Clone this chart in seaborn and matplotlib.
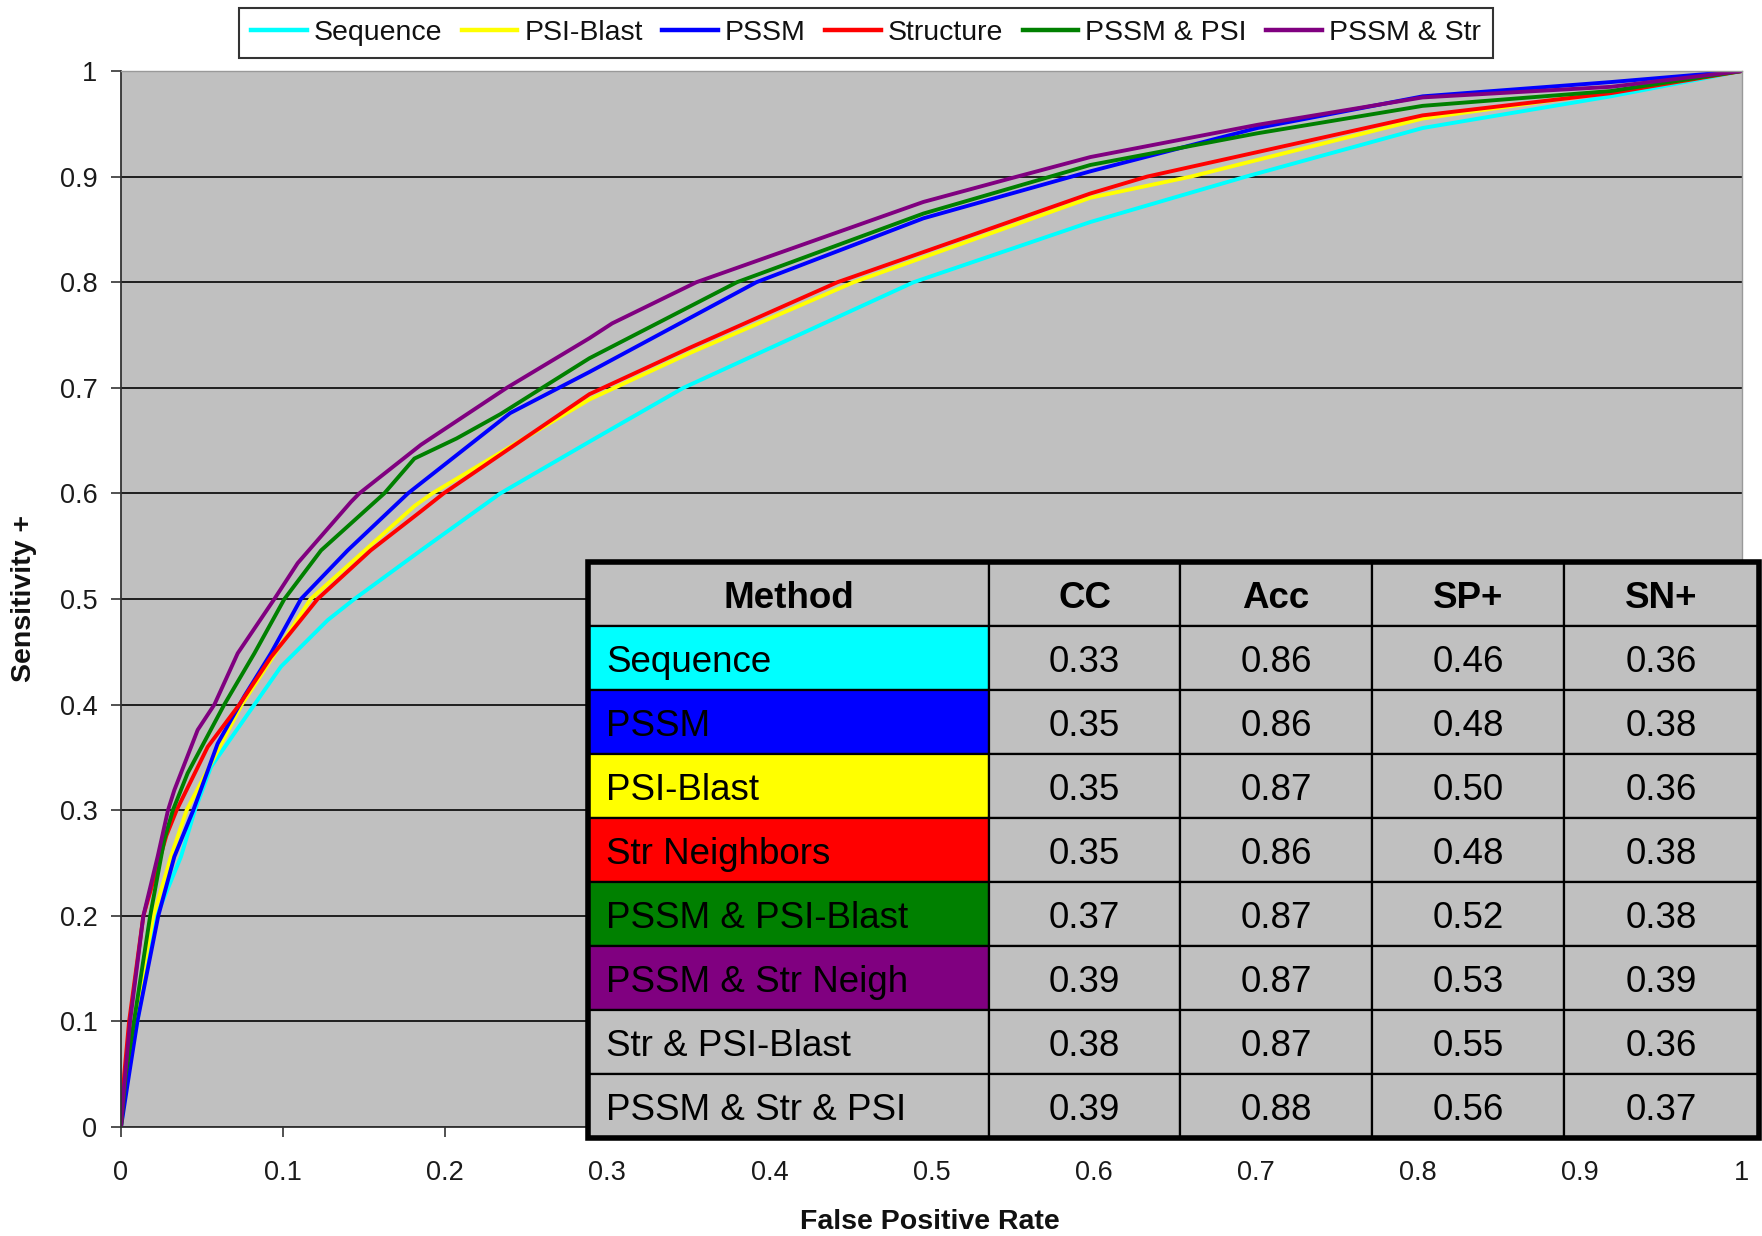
import numpy as np
import pandas as pd
import matplotlib
matplotlib.use("Agg")
import matplotlib.pyplot as plt
import seaborn as sns
from matplotlib.patches import Rectangle

# ---------------- data ----------------
series_names = ["Sequence", "PSI-Blast", "PSSM", "Structure", "PSSM & PSI", "PSSM & Str"]
series_colors = ["#00FFFF", "#FFFF00", "#0000FF", "#FF0000", "#008000", "#800080"]

seq_fpr = [0, 0.004, 0.010, 0.022, 0.037, 0.0456, 0.0555, 0.0823, 0.0987, 0.1275, 0.144, 0.185,
           0.234, 0.289, 0.347, 0.489, 0.598, 0.694, 0.803, 0.919, 1.0]
seq_sens = [0, 0.05, 0.10, 0.20, 0.256, 0.30, 0.341, 0.40, 0.436, 0.480, 0.50, 0.546,
            0.60, 0.649, 0.70, 0.80, 0.857, 0.90, 0.946, 0.976, 1.0]

psi_fpr = [0, 0.003, 0.008, 0.020, 0.0308, 0.0405, 0.0745, 0.117, 0.181, 0.192, 0.289, 0.351,
           0.452, 0.598, 0.660, 0.803, 0.919, 1.0]
psi_sens = [0, 0.05, 0.10, 0.20, 0.256, 0.30, 0.40, 0.50, 0.588, 0.60, 0.689, 0.733,
            0.80, 0.880, 0.90, 0.955, 0.980, 1.0]

pssm_fpr = [0, 0.004, 0.0101, 0.023, 0.0329, 0.0446, 0.0596, 0.0761, 0.0925, 0.111, 0.1398, 0.177,
            0.240, 0.289, 0.392, 0.495, 0.598, 0.701, 0.803, 0.919, 1.0]
pssm_sens = [0, 0.04, 0.10, 0.20, 0.256, 0.30, 0.363, 0.408, 0.4486, 0.50, 0.546, 0.60,
             0.676, 0.715, 0.80, 0.8605, 0.905, 0.946, 0.976, 0.9895, 1.0]

str_fpr = [0, 0.002, 0.005, 0.0138, 0.028, 0.0343, 0.0535, 0.073, 0.0925, 0.1213, 0.154, 0.185,
           0.199, 0.289, 0.351, 0.442, 0.598, 0.633, 0.803, 0.919, 1.0]
str_sens = [0, 0.05, 0.10, 0.20, 0.276, 0.30, 0.360, 0.40, 0.445, 0.50, 0.546, 0.583,
            0.60, 0.694, 0.738, 0.80, 0.884, 0.90, 0.958, 0.979, 1.0]

pssmpsi_fpr = [0, 0.003, 0.008, 0.018, 0.0267, 0.032, 0.0411, 0.0637, 0.0823, 0.1008, 0.1234, 0.1624,
               0.181, 0.207, 0.234, 0.263, 0.289, 0.380, 0.495, 0.598, 0.701, 0.803, 0.919, 1.0]
pssmpsi_sens = [0, 0.05, 0.10, 0.20, 0.272, 0.30, 0.335, 0.40, 0.4486, 0.50, 0.546, 0.60,
                0.633, 0.652, 0.675, 0.703, 0.728, 0.80, 0.865, 0.911, 0.941, 0.967, 0.981, 1.0]

pssmstr_fpr = [0, 0.002, 0.0056, 0.0138, 0.0226, 0.029, 0.0329, 0.0473, 0.0576, 0.072, 0.0946, 0.109,
               0.1419, 0.147, 0.185, 0.238, 0.289, 0.303, 0.355, 0.495, 0.548, 0.598, 0.701, 0.803,
               0.919, 1.0]
pssmstr_sens = [0, 0.04, 0.10, 0.20, 0.256, 0.30, 0.319, 0.376, 0.40, 0.4486, 0.50, 0.534,
                0.592, 0.60, 0.646, 0.70, 0.747, 0.761, 0.80, 0.876, 0.898, 0.9185, 0.949, 0.975,
                0.985, 1.0]

tick_values = [0, 0.1, 0.2, 0.3, 0.4, 0.5, 0.6, 0.7, 0.8, 0.9, 1]
tick_labels = ["0", "0.1", "0.2", "0.3", "0.4", "0.5", "0.6", "0.7", "0.8", "0.9", "1"]

table_cols = ["Method", "CC", "Acc", "SP+", "SN+"]
methods = ["Sequence", "PSSM", "PSI-Blast", "Str Neighbors", "PSSM & PSI-Blast",
           "PSSM & Str Neigh", "Str & PSI-Blast", "PSSM & Str & PSI"]
method_colors = ["#00FFFF", "#0000FF", "#FFFF00", "#FF0000", "#008000", "#800080", "#C0C0C0", "#C0C0C0"]
cc_vals = ["0.33", "0.35", "0.35", "0.35", "0.37", "0.39", "0.38", "0.39"]
acc_vals = ["0.86", "0.86", "0.87", "0.86", "0.87", "0.87", "0.87", "0.88"]
sp_vals = ["0.46", "0.48", "0.50", "0.48", "0.52", "0.53", "0.55", "0.56"]
sn_vals = ["0.36", "0.38", "0.36", "0.38", "0.38", "0.39", "0.36", "0.37"]

# ---------------- build long-form frame ----------------
xs = [seq_fpr, psi_fpr, pssm_fpr, str_fpr, pssmpsi_fpr, pssmstr_fpr]
ys = [seq_sens, psi_sens, pssm_sens, str_sens, pssmpsi_sens, pssmstr_sens]
frames = []
for name, x, y in zip(series_names, xs, ys):
    frames.append(pd.DataFrame({"fpr": x, "sens": y, "method": name}))
df = pd.concat(frames, ignore_index=True)

plt.rcParams["font.family"] = ["Liberation Sans", "DejaVu Sans"]

W, H = 1762, 1236
fig = plt.figure(figsize=(W / 100, H / 100), dpi=100, facecolor="white")
L, R, T, B = 121, 1742, 71, 1127
ax = fig.add_axes([L / W, 1 - B / H, (R - L) / W, (B - T) / H])
ax.set_facecolor("#C0C0C0")

sns.lineplot(data=df, x="fpr", y="sens", hue="method", hue_order=series_names,
             palette=dict(zip(series_names, series_colors)), linewidth=2.8,
             estimator=None, sort=False, ax=ax, legend=True)
for ln in ax.get_lines():
    ln.set_solid_joinstyle("round")

ax.set_xlim(0, 1)
ax.set_ylim(0, 1)
ax.set_xticks(tick_values)
ax.set_xticklabels(tick_labels)
ax.set_yticks(tick_values)
ax.set_yticklabels(tick_labels)
ax.tick_params(axis="both", labelsize=19.5, labelcolor="#1a1a1a", color="#333333",
               length=7, width=1.2, direction="out")
ax.tick_params(axis="x", pad=17)
ax.tick_params(axis="y", pad=10)
ax.set_axisbelow(True)
ax.yaxis.grid(True, color="#111111", linewidth=1.3)
ax.xaxis.grid(False)
for s in ["left", "bottom"]:
    ax.spines[s].set_color("#333333")
    ax.spines[s].set_linewidth(1.3)
for s in ["top", "right"]:
    ax.spines[s].set_color("#999999")
    ax.spines[s].set_linewidth(1.0)

ax.set_xlabel("False Positive Rate", fontsize=20.5, fontweight="bold", color="#111111")
ax.set_ylabel("Sensitivity +", fontsize=20.5, fontweight="bold", color="#111111")
ax.xaxis.label.set_va("baseline")
ax.xaxis.set_label_coords(930 / W, 1 - 1229 / H, transform=fig.transFigure)
ax.yaxis.set_label_coords(-0.052, 0.5)

handles, labels = ax.get_legend_handles_labels()
ax.get_legend().remove()
leg = fig.legend(handles, labels, loc="center", ncol=6,
                 bbox_to_anchor=(866 / W, 1 - 33 / H), bbox_transform=fig.transFigure,
                 fontsize=20.5, frameon=True, fancybox=False, edgecolor="black",
                 handlelength=1.95, handletextpad=0.25, columnspacing=0.68,
                 borderpad=0.42, borderaxespad=0)
leg.get_frame().set_linewidth(1.5)
for lh in leg.get_lines():
    lh.set_linewidth(3.2)
for t in leg.get_texts():
    t.set_color("#111111")

# ---------------- table ----------------
rows = [[m, c, a, s, n] for m, c, a, s, n in zip(methods, cc_vals, acc_vals, sp_vals, sn_vals)]
cell_colours = [[mc] + ["#C0C0C0"] * 4 for mc in method_colors]
tl, tr, tt, tb = 588, 1759, 562, 1138
bx0 = (tl - L) / (R - L)
bw = (tr - tl) / (R - L)
by0 = (B - tb) / (B - T)
bh = (tb - tt) / (B - T)
col_w = [401, 191, 192, 192, 195]
col_w = [w / sum(col_w) for w in col_w]
tbl = ax.table(cellText=rows, colLabels=table_cols, cellColours=cell_colours,
               colColours=["#C0C0C0"] * 5, colWidths=col_w, cellLoc="center",
               bbox=[bx0, by0, bw, bh])
tbl.auto_set_font_size(False)
tbl.set_fontsize(26.5)
tbl.set_zorder(5)
for (r, c), cell in tbl.get_celld().items():
    cell.set_edgecolor("black")
    cell.set_linewidth(1.6)
    txt = cell.get_text()
    txt.set_color("black")
    txt.set_va("center_baseline")
    if r == 0:
        txt.set_fontweight("bold")
        txt.set_ha("center")
    elif c == 0:
        cell._loc = "left"
        cell.PAD = 0.045
        txt.set_ha("left")
border = Rectangle((bx0, by0), bw, bh, transform=ax.transAxes, fill=False,
                   edgecolor="black", linewidth=4, clip_on=False, zorder=6)
ax.add_patch(border)

fig.savefig("out.png", dpi=100, facecolor="white")
